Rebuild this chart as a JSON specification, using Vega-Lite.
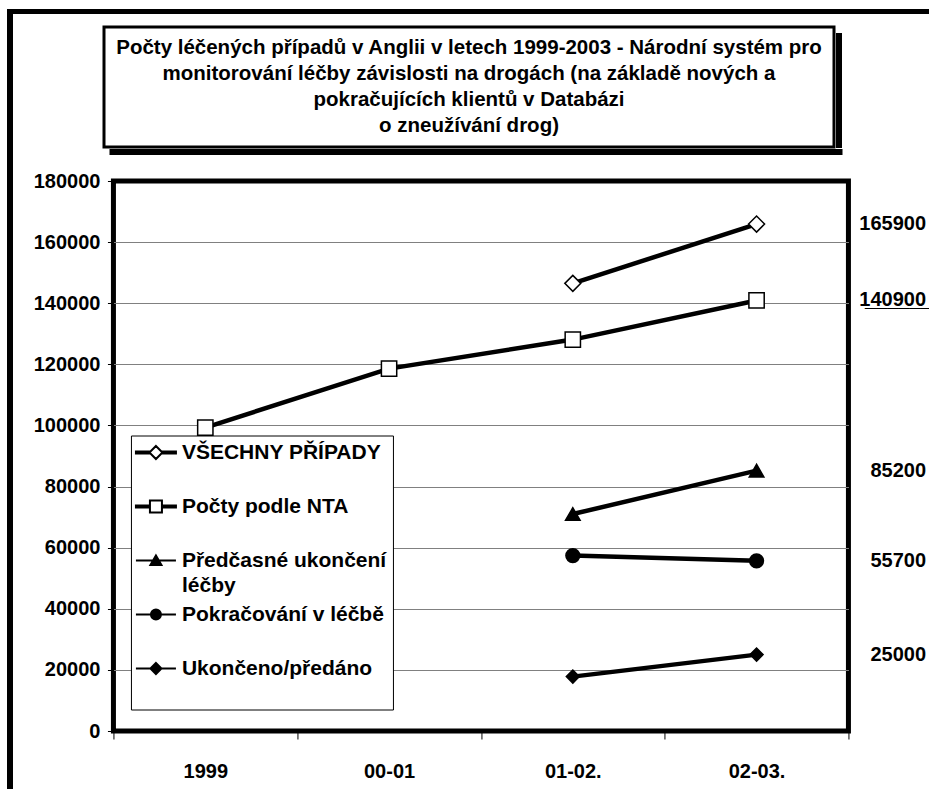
{
  "$schema": "https://vega.github.io/schema/vega-lite/v6.json",
  "padding": {"left": 7, "top": 9, "right": 0, "bottom": 0},
  "background": "white",
  "config": {"font": "Liberation Sans", "view": {"stroke": null}, "concat": {"spacing": 0}},
  "spacing": 0,
  "vconcat": [
    {"width": 940, "height": 5, "view": {"fill": "black", "stroke": null}, "data": {"values": [{}]}, "mark": {"type": "text", "text": "", "fontSize": 0, "baseline": "top", "align": "left"}},
    {
      "spacing": 17,
      "hconcat": [
        {"width": 6, "height": 790, "view": {"fill": "black", "stroke": null}, "data": {"values": [{}]}, "mark": {"type": "text", "text": "", "fontSize": 0, "baseline": "top", "align": "left"}},
        {
          "spacing": 0,
          "center": true,
          "vconcat": [
            {"width": 1, "height": 11, "data": {"values": [{}]}, "mark": {"type": "text", "text": "", "fontSize": 0, "baseline": "top", "align": "left"}},
            {
              "spacing": 0,
              "hconcat": [
                {
                  "width": 730, "height": 120,
                  "view": {"stroke": "black", "strokeWidth": 3},
                  "data": {"values": [{"k": "t", "label": "Počty léčených případů v Anglii v letech 1999-2003 - Národní systém pro\nmonitorování léčby závislosti na drogách (na základě nových a\npokračujících klientů v Databázi\no zneužívání drog)"}]},
                  "mark": {"type": "text", "lineBreak": "\n", "fontSize": 20.5, "fontWeight": "bold", "lineHeight": 26, "color": "black", "baseline": "middle", "dy": -39},
                  "encoding": {
                    "x": {"field": "k", "type": "nominal", "axis": null, "scale": {"paddingInner": 0, "paddingOuter": 0}},
                    "y": {"field": "k", "type": "nominal", "axis": null, "scale": {"paddingInner": 0, "paddingOuter": 0}},
                    "text": {"field": "label"}
                  }
                },
                {
                  "spacing": 0,
                  "vconcat": [
                    {"width": 1, "height": 6, "data": {"values": [{}]}, "mark": {"type": "text", "text": "", "fontSize": 0, "baseline": "top", "align": "left"}},
                    {"width": 6, "height": 115, "view": {"fill": "black", "stroke": null}, "data": {"values": [{}]}, "mark": {"type": "text", "text": "", "fontSize": 0, "baseline": "top", "align": "left"}}
                  ]
                },
                {"width": 96, "height": 1, "data": {"values": [{}]}, "mark": {"type": "text", "text": "", "fontSize": 0, "baseline": "top", "align": "left"}}
              ]
            },
            {
              "spacing": 0,
              "hconcat": [
                {"width": 733, "height": 6, "view": {"fill": "black", "stroke": null}, "data": {"values": [{}]}, "mark": {"type": "text", "text": "", "fontSize": 0, "baseline": "top", "align": "left"}},
                {"width": 90, "height": 1, "data": {"values": [{}]}, "mark": {"type": "text", "text": "", "fontSize": 0, "baseline": "top", "align": "left"}}
              ]
            },
            {"width": 1, "height": 12.5, "data": {"values": [{}]}, "mark": {"type": "text", "text": "", "fontSize": 0, "baseline": "top", "align": "left"}},
            {
              "width": 735, "height": 550,
              "view": {"stroke": "black", "strokeWidth": 5},
              "data": {"values": [
                {"series": "VŠECHNY PŘÍPADY", "period": "01-02.", "value": 146500},
                {"series": "VŠECHNY PŘÍPADY", "period": "02-03.", "value": 165900},
                {"series": "Počty podle NTA", "period": "1999", "value": 99300},
                {"series": "Počty podle NTA", "period": "00-01", "value": 118600},
                {"series": "Počty podle NTA", "period": "01-02.", "value": 128100},
                {"series": "Počty podle NTA", "period": "02-03.", "value": 140900},
                {"series": "Předčasné ukončení léčby", "period": "01-02.", "value": 71000},
                {"series": "Předčasné ukončení léčby", "period": "02-03.", "value": 85200},
                {"series": "Pokračování v léčbě", "period": "01-02.", "value": 57400},
                {"series": "Pokračování v léčbě", "period": "02-03.", "value": 55700},
                {"series": "Ukončeno/předáno", "period": "01-02.", "value": 17800},
                {"series": "Ukončeno/předáno", "period": "02-03.", "value": 25000}
              ]},
              "encoding": {
                "x": {
                  "field": "period", "type": "nominal",
                  "scale": {"domain": ["1999", "00-01", "01-02.", "02-03."], "paddingInner": 0, "paddingOuter": 0},
                  "axis": {"title": null, "labelAngle": 0, "domain": false, "ticks": true, "tickColor": "black", "tickSize": 8, "tickWidth": 1, "tickBand": "extent", "labelFontSize": 20, "labelFontWeight": "bold", "labelColor": "black", "labelPadding": 22, "labelBaseline": "top", "grid": false}
                },
                "y": {
                  "field": "value", "type": "quantitative",
                  "scale": {"domain": [0, 180000], "nice": false},
                  "axis": {"title": null, "domain": false, "values": [0, 20000, 40000, 60000, 80000, 100000, 120000, 140000, 160000, 180000], "format": "d", "tickColor": "black", "tickSize": 6, "tickWidth": 1, "labelFontSize": 20, "labelFontWeight": "bold", "labelColor": "black", "labelPadding": 7.5, "grid": true, "gridColor": "#808080", "gridWidth": 1, "gridOpacity": {"condition": {"test": "datum.value === 0 || datum.value === 180000", "value": 0}, "value": 1}}
                }
              },
              "layer": [
                {
                  "mark": {"type": "line", "color": "black"},
                  "encoding": {
                    "detail": {"field": "series"},
                    "order": {"value": null},
                    "strokeWidth": {"field": "series", "type": "ordinal", "scale": {"domain": ["VŠECHNY PŘÍPADY", "Počty podle NTA", "Předčasné ukončení léčby", "Pokračování v léčbě", "Ukončeno/předáno"], "range": [4.5, 4.5, 2.5, 2.5, 2.5]}, "legend": null}
                  }
                },
                {
                  "mark": {"type": "point", "stroke": "black", "strokeWidth": 1.5, "opacity": 1},
                  "encoding": {
                    "shape": {"field": "series", "type": "nominal", "scale": {"domain": ["VŠECHNY PŘÍPADY", "Počty podle NTA", "Předčasné ukončení léčby", "Pokračování v léčbě", "Ukončeno/předáno"], "range": ["diamond", "square", "triangle-up", "circle", "diamond"]}, "legend": null},
                    "fill": {"field": "series", "type": "nominal", "scale": {"domain": ["VŠECHNY PŘÍPADY", "Počty podle NTA", "Předčasné ukončení léčby", "Pokračování v léčbě", "Ukončeno/předáno"], "range": ["white", "white", "black", "black", "black"]}, "legend": null},
                    "size": {"field": "series", "type": "ordinal", "scale": {"domain": ["VŠECHNY PŘÍPADY", "Počty podle NTA", "Předčasné ukončení léčby", "Pokračování v léčbě", "Ukončeno/předáno"], "range": [256, 169, 200, 170, 140]}, "legend": null}
                  }
                },
                {
                  "mark": {"type": "point", "stroke": "black", "opacity": 0},
                  "encoding": {
                    "shape": {"field": "series", "type": "nominal",
                      "scale": {"domain": ["VŠECHNY PŘÍPADY", "Počty podle NTA", "Předčasné ukončení léčby", "Pokračování v léčbě", "Ukončeno/předáno"],
                        "range": ["M-2,-0.1H-0.65V0.1H-2Z M0.65,-0.1H2V0.1H0.65Z M0,-0.65L0.65,0L0,0.65L-0.65,0Z", "M-2,-0.1H-0.6V0.1H-2Z M0.6,-0.1H2V0.1H0.6Z M-0.6,-0.6H0.6V0.6H-0.6Z", "M-2,0H2 M0,-0.5L0.55,0.45H-0.55Z", "M-2,0H2 M-0.5,0A0.5,0.5,0,1,0,0.5,0A0.5,0.5,0,1,0,-0.5,0Z", "M-2,0H2 M0,-0.55L0.55,0L0,0.55L-0.55,0Z"]},
                      "legend": {"title": null, "orient": "none", "legendX": 17.5, "legendY": 254.5, "fillColor": "white", "strokeColor": "black", "padding": 6, "symbolOffset": 8, "symbolSize": 400, "symbolStrokeWidth": 2, "symbolStrokeColor": "black", "symbolOpacity": 1, "labelFontSize": 21, "labelFontWeight": "bold", "labelColor": "black", "labelFont": "Liberation Sans", "labelOffset": 15, "labelLimit": 400, "rowPadding": 8, "labelExpr": "datum.label === 'Předčasné ukončení léčby' ? ['Předčasné ukončení', 'léčby'] : [datum.label, '']", "encode": {"labels": {"update": {"lineHeight": {"value": 25}}}}}
                    },
                    "fill": {"field": "series", "type": "nominal",
                      "scale": {"domain": ["VŠECHNY PŘÍPADY", "Počty podle NTA", "Předčasné ukončení léčby", "Pokračování v léčbě", "Ukončeno/předáno"], "range": ["white", "white", "black", "black", "black"]},
                      "legend": {"title": null, "orient": "none", "legendX": 17.5, "legendY": 254.5, "fillColor": "white", "strokeColor": "black", "padding": 6, "symbolOffset": 8, "symbolSize": 400, "symbolStrokeWidth": 2, "symbolStrokeColor": "black", "symbolOpacity": 1, "labelFontSize": 21, "labelFontWeight": "bold", "labelColor": "black", "labelFont": "Liberation Sans", "labelOffset": 15, "labelLimit": 400, "rowPadding": 8, "labelExpr": "datum.label === 'Předčasné ukončení léčby' ? ['Předčasné ukončení', 'léčby'] : [datum.label, '']", "encode": {"labels": {"update": {"lineHeight": {"value": 25}}}}}
                    }
                  }
                },
                {
                  "transform": [{"filter": "datum.period === '02-03.'"}],
                  "mark": {"type": "text", "align": "right", "baseline": "middle", "dx": 169.5, "fontSize": 20, "fontWeight": "bold", "color": "black"},
                  "encoding": {
                    "text": {"condition": {"test": "datum.value === 140900", "value": "1̲4̲0̲9̲0̲0̲"}, "field": "value", "type": "quantitative", "format": "d"}
                  }
                }
              ],
              "resolve": {"scale": {"shape": "independent", "fill": "independent"}}
            }
          ]
        }
      ]
    }
  ]
}
